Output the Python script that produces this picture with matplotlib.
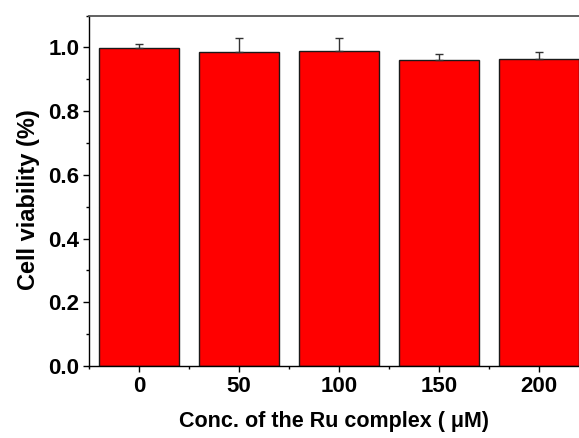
import matplotlib.pyplot as plt
from matplotlib.ticker import MultipleLocator

plt.rcParams['font.family'] = ['Liberation Sans', 'DejaVu Sans']
plt.rcParams['font.weight'] = 'bold'

conc = [0, 50, 100, 150, 200]
viability = [0.998, 0.987, 0.990, 0.961, 0.963]
err = [0.011, 0.043, 0.040, 0.019, 0.022]

W, H = 579, 438
fig = plt.figure(figsize=(W / 100, H / 100), dpi=100)
ax = fig.add_axes([89 / W, 1 - 366 / H, (579 - 89) / W, (366 - 15.5) / H])

ax.bar(conc, viability, width=40, color='#ff0000', edgecolor='#1a1a1a', linewidth=1.0, zorder=2)
ax.errorbar(conc, viability, yerr=[[0] * len(err), err], fmt='none', ecolor='#333333',
            elinewidth=1.0, capsize=2.7, capthick=1.0, zorder=3)

ax.set_xlim(-25, 220)
ax.set_ylim(0, 1.1)
ax.set_xticks(conc)
ax.xaxis.set_minor_locator(MultipleLocator(25))
ax.yaxis.set_minor_locator(MultipleLocator(0.1))
ax.set_yticks([0, 0.2, 0.4, 0.6, 0.8, 1.0])
ax.set_yticklabels(['0.0', '0.2', '0.4', '0.6', '0.8', '1.0'])

ax.spines['right'].set_visible(False)
ax.spines['top'].set_color('#555555')
ax.spines['top'].set_linewidth(1.3)
ax.spines['left'].set_linewidth(1.0)
ax.spines['bottom'].set_linewidth(1.0)

ax.tick_params(which='major', direction='out', length=4, width=1.0, labelsize=16, pad=3)
ax.tick_params(which='minor', direction='out', length=2.5, width=1.0)

ax.set_xlabel('Conc. of the Ru complex ( μM)', fontsize=15.5, fontweight='bold', labelpad=10)
ax.set_ylabel('Cell viability (%)', fontsize=17, fontweight='bold')
ax.yaxis.set_label_coords(-0.099, 0.474)

plt.savefig('out.png', dpi=100)
